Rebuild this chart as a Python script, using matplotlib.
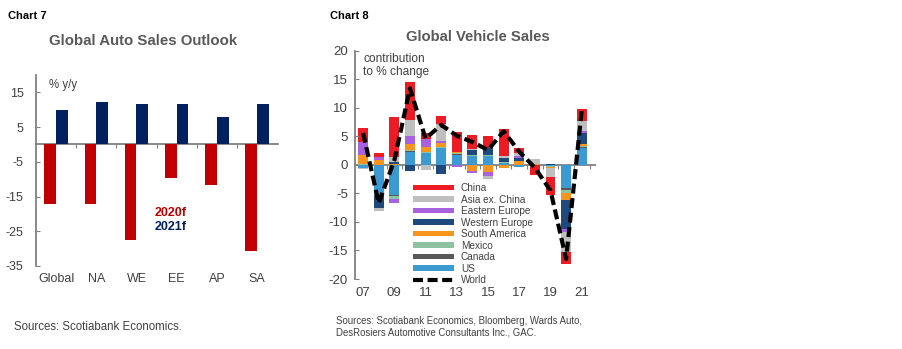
import numpy as np
import matplotlib.pyplot as plt

plt.rcParams['font.family'] = ['Liberation Sans', 'DejaVu Sans']
plt.rcParams['axes.unicode_minus'] = False

# chart 7 data
regions = ['Global', 'NA', 'WE', 'EE', 'AP', 'SA']
f2020 = [-17.1, -17.1, -27.4, -9.7, -11.6, -30.7]
f2021 = [10.0, 12.1, 11.6, 11.6, 7.9, 11.6]

# chart 8 data, contribution to % change
years = list(range(2007, 2022))
us = [-0.6, -5.3, -5.3, 2.3, 2.0, 2.9, 1.8, 1.5, 1.55, 0.3, -0.3, 0.0, -0.2, -4.0, 2.9]
canada = [0.05, -0.1, -0.2, 0.15, 0.1, 0.1, 0.1, 0.05, 0.05, 0.05, 0.05, 0.0, -0.05, -0.4, 0.2]
mexico = [0.1, -0.1, -0.4, 0.15, 0.15, 0.1, 0.1, 0.15, 0.2, 0.1, -0.1, -0.05, -0.05, -0.5, 0.15]
south_america = [1.5, 0.9, 0.2, 1.1, 0.8, 0.7, 0.2, -1.0, -1.2, -0.5, 0.7, 0.1, -0.3, -1.3, 0.35]
western_europe = [0.1, -2.0, 0.3, -1.0, -0.1, -1.6, -0.1, 0.9, 1.2, 0.8, 0.4, 0.0, 0.1, -5.1, 1.9]
eastern_europe = [2.3, 0.4, -0.7, 1.3, 1.4, 0.3, -0.2, -0.4, -0.8, -0.1, 0.35, 0.1, 0.0, -0.5, 0.4]
asia_ex_china = [-0.2, -0.6, 0.9, 2.9, -0.8, 3.1, 0.0, 0.1, -0.5, 0.3, 0.6, 0.9, -1.6, -3.4, 1.7]
china = [2.4, 0.8, 6.9, 6.6, 1.1, 1.4, 3.6, 2.6, 2.1, 4.7, 0.8, -1.7, -3.0, -2.1, 2.2]
world = [5.6, -6.7, 0.8, 13.4, 4.6, 7.0, 5.1, 4.0, 2.6, 5.9, 2.3, -0.5, -4.5, -16.5, 9.5]
year_labels = ['07', '09', '11', '13', '15', '17', '19', '21']

W, H = 903, 349
fig = plt.figure(figsize=(W / 100, H / 100), dpi=100)

def frac(x0, y0, x1, y1):
    # pixel box -> figure fraction rect
    return [x0 / W, 1 - y1 / H, (x1 - x0) / W, (y1 - y0) / H]

grey = '#808080'
txt = '#404040'

# ---------- Chart 7 ----------
ax1 = fig.add_axes(frac(36, 75, 278, 266))
x = np.arange(len(regions))
bw = 0.29
ax1.bar(x - bw / 2, f2020, bw, color='#C00000')
ax1.bar(x + bw / 2, f2021, bw, color='#002060')
ax1.set_xlim(-0.5, 5.52)
ax1.set_ylim(-35, 20)
ax1.set_yticks([15, 5, -5, -15, -25, -35])
ax1.set_xticks(x, regions)
ax1.tick_params(axis='x', length=0, pad=5, labelsize=9, colors=txt)
ax1.tick_params(axis='y', direction='in', length=3, color=grey, labelsize=9,
                labelcolor=txt, pad=9)
for s in ['top', 'right', 'bottom']:
    ax1.spines[s].set_visible(False)
ax1.spines['left'].set_color(grey)
ax1.spines['left'].set_linewidth(1.3)
zl1 = ax1.secondary_xaxis(35 / 55)
zl1.set_xticks(x[:-1] + 0.5)
zl1.tick_params(direction='in', length=3, color=grey, labelbottom=False, labeltop=False)
for s in ['top', 'bottom']:
    zl1.spines[s].set_color(grey)
    zl1.spines[s].set_linewidth(1.3)
ax1.text(-0.18, 17.2, '% y/y', fontsize=8.3, color=txt, va='center')
ax1.text(2.45, -19.6, '2020f', fontsize=9, fontweight='bold', color='#C00000', va='center')
ax1.text(2.45, -23.9, '2021f', fontsize=9, fontweight='bold', color='#002060', va='center')

fig.text(8 / W, 1 - 16 / H, 'Chart 7', fontsize=8, fontweight='bold', va='center')
fig.text(143 / W, 1 - 41 / H, 'Global Auto Sales Outlook', fontsize=10.8, fontweight='bold',
         color='#595959', ha='center', va='center')
fig.text(14 / W, 1 - 327 / H, 'Sources: Scotiabank Economics.', fontsize=8.3,
         color=txt, va='center')

# ---------- Chart 8 ----------
ax2 = fig.add_axes(frac(355, 50.7, 595, 279))
series = [
    ('US', us, '#3C9AD2'),
    ('Canada', canada, '#595959'),
    ('Mexico', mexico, '#8DC3A0'),
    ('South America', south_america, '#F7941D'),
    ('Western Europe', western_europe, '#1F497D'),
    ('Eastern Europe', eastern_europe, '#A862E0'),
    ('Asia ex. China', asia_ex_china, '#BFBFBF'),
    ('China', china, '#ED1C24'),
]
pos = np.zeros(len(years))
neg = np.zeros(len(years))
handles = {}
for name, vals, col in series:
    v = np.array(vals)
    bottom = np.where(v >= 0, pos, neg)
    b = ax2.bar(years, v, 0.64, bottom=bottom, color=col)
    handles[name] = b
    pos = pos + np.where(v >= 0, v, 0)
    neg = neg + np.where(v < 0, v, 0)
ln, = ax2.plot(years, world, color='black', lw=3.0, linestyle=(0, (2.4, 1.1)),
               dash_capstyle='butt')

ax2.set_xlim(2006.48, 2021.85)
ax2.set_ylim(-20, 20)
ax2.set_yticks(range(-20, 21, 5))
ax2.set_xticks(years[::2], year_labels)
ax2.tick_params(axis='x', length=0, pad=6, labelsize=9.5, colors=txt)
ax2.tick_params(axis='y', direction='in', length=3, color=grey, labelsize=9.5,
                labelcolor=txt, pad=5)
for s in ['top', 'right', 'bottom']:
    ax2.spines[s].set_visible(False)
ax2.spines['left'].set_color(grey)
ax2.spines['left'].set_linewidth(1.3)
zl2 = ax2.secondary_xaxis(0.5)
zl2.set_xticks(np.arange(2007.5, 2021.6, 1))
zl2.tick_params(direction='in', length=3, color=grey, labelbottom=False, labeltop=False)
for s in ['top', 'bottom']:
    zl2.spines[s].set_color(grey)
    zl2.spines[s].set_linewidth(1.3)
ax2.text(2007.0, 19.6, 'contribution\nto % change', fontsize=8.6, color=txt, va='top',
         linespacing=1.1)

order = ['China', 'Asia ex. China', 'Eastern Europe', 'Western Europe',
         'South America', 'Mexico', 'Canada', 'US']
leg_h = [handles[n] for n in order] + [ln]
leg = ax2.legend(leg_h, order + ['World'], loc='upper left', bbox_to_anchor=(0.225, 0.438),
                 frameon=False, fontsize=7.2, handlelength=4.1, handleheight=0.45,
                 handletextpad=0.7, labelspacing=0.15, borderaxespad=0)
for t in leg.get_texts():
    t.set_color(txt)

fig.text(330 / W, 1 - 16 / H, 'Chart 8', fontsize=8, fontweight='bold', va='center')
fig.text(478 / W, 1 - 37 / H, 'Global Vehicle Sales', fontsize=10.7, fontweight='bold',
         color='#595959', ha='center', va='center')
fig.text(336 / W, 1 - 327 / H,
         'Sources: Scotiabank Economics, Bloomberg, Wards Auto,\n'
         'DesRosiers Automotive Consultants Inc., GAC.',
         fontsize=6.9, color=txt, va='center', linespacing=1.2)

fig.savefig('out.png', dpi=100)
